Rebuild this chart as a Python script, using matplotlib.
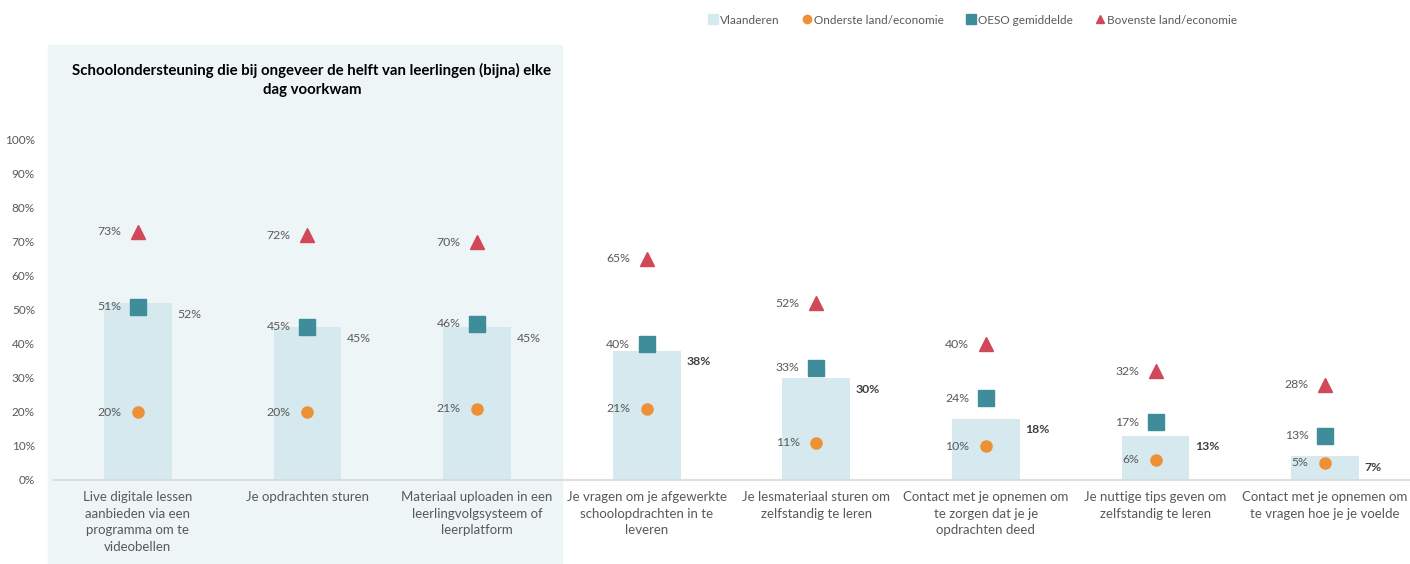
import matplotlib.pyplot as plt
from matplotlib.patches import Rectangle
from matplotlib.lines import Line2D
import numpy as np

categories = [
    "Live digitale lessen\naanbieden via een\nprogramma om te\nvideobellen",
    "Je opdrachten sturen",
    "Materiaal uploaden in een\nleerlingvolgsysteem of\nleerplatform",
    "Je vragen om je afgewerkte\nschoolopdrachten in te\nleveren",
    "Je lesmateriaal sturen om\nzelfstandig te leren",
    "Contact met je opnemen om\nte zorgen dat je je\nopdrachten deed",
    "Je nuttige tips geven om\nzelfstandig te leren",
    "Contact met je opnemen om\nte vragen hoe je je voelde",
]
vlaanderen = [52, 45, 45, 38, 30, 18, 13, 7]
vl_bold = [False, False, False, True, True, True, True, True]
onderste = [20, 20, 21, 21, 11, 10, 6, 5]
oeso = [51, 45, 46, 40, 33, 24, 17, 13]
bovenste = [73, 72, 70, 65, 52, 40, 32, 28]
yticks = list(range(0, 101, 10))

c_bar = "#D5E9EE"
c_or = "#EE9035"
c_oeso = "#3F8C9B"
c_top = "#D14858"
c_txt = "#595959"
c_shade = "#EDF5F7"

plt.rcParams["font.family"] = ["Lato", "DejaVu Sans"]

W, H = 1410, 564
fig = plt.figure(figsize=(W / 100, H / 100), dpi=100)
ax = fig.add_axes([53 / W, (H - 480) / H, (1410 - 53) / W, (480 - 140) / H])
ax.set_facecolor("none")

# shaded block behind the first three categories
fig.patches.append(Rectangle((48 / W, 0), (562 - 48) / W, (H - 45) / H,
                             transform=fig.transFigure, color=c_shade, zorder=-1))
fig.text(312 / W, 1 - 80 / H,
         "Schoolondersteuning die bij ongeveer de helft van leerlingen (bijna) elke\ndag voorkwam",
         ha="center", va="center", fontsize=10.8, fontweight="bold", color="#000000",
         linespacing=1.5)

x = np.arange(len(categories))
ax.bar(x, vlaanderen, width=0.4, color=c_bar, zorder=2)
ax.plot(x, onderste, "o", ms=8, color=c_or, zorder=3, linestyle="none")
ax.plot(x, oeso, "s", ms=11, color=c_oeso, zorder=3, linestyle="none")
ax.plot(x, bovenste, "^", ms=10.5, color=c_top, zorder=3, linestyle="none")

for i in range(len(categories)):
    for vals in (onderste, oeso, bovenste):
        ax.annotate(f"{vals[i]}%", (x[i], vals[i]), xytext=(-12, 0),
                    textcoords="offset points", ha="right", va="center",
                    fontsize=8.8, color=c_txt)
    ax.annotate(f"{vlaanderen[i]}%", (x[i] + 0.2, vlaanderen[i]), xytext=(4, -8),
                textcoords="offset points", ha="left", va="center", fontsize=8.8,
                color="#404040" if vl_bold[i] else c_txt,
                fontweight="bold" if vl_bold[i] else "normal")

ax.set_xlim(-0.5, len(categories) - 0.5)
ax.set_ylim(0, 100)
ax.set_yticks(yticks)
ax.set_yticklabels([f"{t}%" for t in yticks])
ax.set_xticks(x)
ax.set_xticklabels(categories, fontsize=9.5, color=c_txt, linespacing=1.45, va="top")
ax.tick_params(axis="y", length=0, labelsize=8.5, labelcolor=c_txt, pad=13)
ax.tick_params(axis="x", length=0, pad=8)
for s in ["top", "right", "left"]:
    ax.spines[s].set_visible(False)
ax.spines["bottom"].set_color("#D9D9D9")
ax.spines["bottom"].set_linewidth(1.2)

handles = [
    Line2D([], [], marker="s", color=c_bar, ls="none", ms=7),
    Line2D([], [], marker="o", color=c_or, ls="none", ms=6),
    Line2D([], [], marker="s", color=c_oeso, ls="none", ms=7),
    Line2D([], [], marker="^", color=c_top, ls="none", ms=6),
]
labels = ["Vlaanderen", "Onderste land/economie", "OESO gemiddelde", "Bovenste land/economie"]
fig.legend(handles, labels, loc="center", bbox_to_anchor=(972 / W, 1 - 20 / H), ncol=4,
           frameon=False, fontsize=8.5, handletextpad=0.1, columnspacing=1.8,
           labelcolor=c_txt, handlelength=1.0)

fig.savefig("out.png", dpi=100)
